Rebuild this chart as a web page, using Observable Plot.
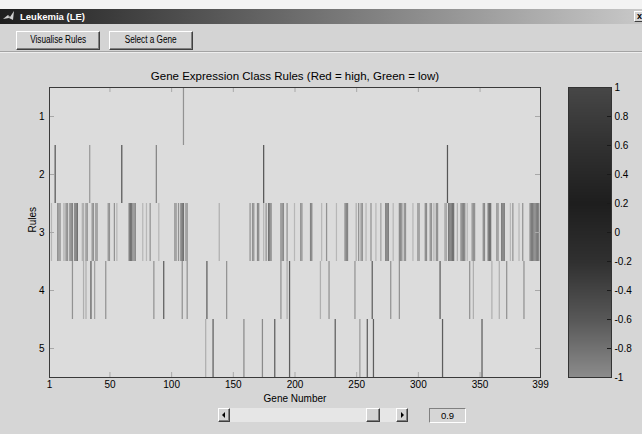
<!DOCTYPE html>
<html>
<head>
<meta charset="utf-8">
<script src="https://cdn.jsdelivr.net/npm/d3@7"></script>
<script src="https://cdn.jsdelivr.net/npm/@observablehq/plot@0.6"></script>
<style>
html, body { margin: 0; padding: 0; }
body { width: 642px; height: 434px; overflow: hidden; background: #d6d6d6; position: relative; font-family: "Liberation Sans", Arial, sans-serif; }
.abs { position: absolute; box-sizing: border-box; }
#topstrip { left: 0; top: 0; width: 642px; height: 9px; background: #f3f3f3; }
#titlebar { left: 0; top: 9px; width: 642px; height: 15px; background: linear-gradient(to right, #1e1e1e, #c8c8c8); }
#titletext { left: 20px; top: 9px; height: 15px; line-height: 15px; color: #fff; font-weight: bold; font-size: 9.5px; }
#icon { left: 3px; top: 11px; }
#closebtn { left: 634px; top: 11px; width: 14px; height: 11px; background: #d4d4d4; border-top: 1px solid #fff; border-left: 1px solid #fff; border-bottom: 1px solid #404040; border-right: 1px solid #404040; font-size: 9px; line-height: 9px; font-weight: bold; padding-left: 2px; color: #000; }
#toolbar { left: 0; top: 24px; width: 642px; height: 28px; background: #d4d4d4; border-bottom: 1px solid #a4a4a4; }
#sep2 { left: 0; top: 52px; width: 642px; height: 1px; background: #eeeeee; }
.btn { background: #d4d4d4; border-top: 1px solid #fff; border-left: 1px solid #fff; border-bottom: 1px solid #404040; border-right: 1px solid #404040; box-shadow: inset -1px -1px 0 #808080; text-align: center; color: #000; font-size: 10px; line-height: 16px; white-space: nowrap; }
.btn span { display: inline-block; transform: scaleX(0.82); }
#track { left: 230px; top: 408px; width: 167px; height: 14px; background: #e6e6e6; }
.sbtn { top: 408px; height: 14px; background: #d4d4d4; border-top: 1px solid #fff; border-left: 1px solid #fff; border-bottom: 1px solid #404040; border-right: 1px solid #404040; box-shadow: inset -1px -1px 0 #808080; }
.arrow { position: absolute; top: 3px; width: 0; height: 0; border-top: 3px solid transparent; border-bottom: 3px solid transparent; }
#valbox { left: 429px; top: 408px; width: 37px; height: 15px; background: #d6d6d6; border-top: 1px solid #808080; border-left: 1px solid #808080; border-bottom: 1px solid #fff; border-right: 1px solid #fff; font-size: 9.5px; line-height: 13px; text-align: center; color: #000; }
#mainplot { left: 0; top: 60px; }
#cbar { left: 560px; top: 60px; }
</style>
</head>
<body>
<div class="abs" id="topstrip"></div>
<div class="abs" id="titlebar"></div>
<svg class="abs" id="icon" width="12" height="11" viewBox="0 0 12 11"><path d="M0 8 L5 4 L7 6 L11 0 L10 9 L6 7 Z" fill="#d0d0d0"/><path d="M5 4 L7 6 L6 7 Z" fill="#888"/></svg>
<div class="abs" id="titletext">Leukemia (LE)</div>
<div class="abs" id="closebtn">x</div>
<div class="abs" id="toolbar"></div>
<div class="abs" id="sep2"></div>
<div class="abs btn" style="left:16px;top:31px;width:84px;height:19px;"><span>Visualise Rules</span></div>
<div class="abs btn" style="left:109px;top:31px;width:84px;height:19px;"><span>Select a Gene</span></div>
<div class="abs" id="track"></div>
<div class="abs sbtn" style="left:218px;width:12px;"><div class="arrow" style="left:3px;border-right:3px solid #000;"></div></div>
<div class="abs sbtn" style="left:366px;width:14px;"></div>
<div class="abs sbtn" style="left:396px;width:12px;"><div class="arrow" style="left:4px;border-left:3px solid #000;"></div></div>
<div class="abs" id="valbox">0.9</div>
<div class="abs" id="mainplot"></div>
<div class="abs" id="cbar"></div>
<script>
// ---- data ----
const geneTicks = [1, 50, 100, 150, 200, 250, 300, 350, 399];
const ruleTicks = [1, 2, 3, 4, 5];
const colorbarTicks = [1, 0.8, 0.6, 0.4, 0.2, 0, -0.2, -0.4, -0.6, -0.8, -1];

// [gene number, strength of the rule condition] for each rule
const rule1 = [[110, 0.5]];
const rule2 = [[6, 0.9], [34, 0.45], [60, 0.9], [88, 0.6], [175, 0.9], [324, 0.9]];
const rule3 = [
  [3,.25],[8,.5],[9,.5],[10,.5],[13,.25],[14,.25],[15,.5],[16,.5],[18,.6],[19,.6],[20,.6],[22,.72],[23,.72],[24,.72],
  [28,.3],[29,.3],[31,.5],[32,.5],[36,.5],[37,.5],[39,.5],[40,.5],[49,.5],[50,.5],[54,.5],[56,.25],[66,.72],[67,.72],[68,.72],
  [69,.55],[70,.55],[71,.55],[77,.25],[80,.25],[83,.5],[90,.25],[103,.5],[104,.5],[106,.5],[108,.72],[109,.72],[110,.72],[112,.5],[113,.5],
  [139,.3],[164,.5],[166,.5],[167,.5],[170,.55],[171,.55],[175,.25],[177,.5],[179,.7],[180,.7],[181,.6],[189,.55],[190,.55],[191,.55],
  [194,.5],[200,.25],[205,.5],[206,.5],[213,.6],[214,.6],[222,.25],[226,.5],[234,.25],[241,.6],[242,.6],[243,.6],[250,.3],[252,.5],
  [254,.5],[255,.5],[258,.25],[262,.5],[266,.25],
  [270,.4],[274,.7],[275,.7],[276,.7],[280,.25],[285,.55],[286,.55],[287,.55],[289,.5],[290,.5],[296,.25],[300,.5],[301,.5],
  [306,.55],[307,.55],[310,.5],[311,.5],[313,.25],[315,.5],[316,.5],[322,.4],[323,.4],[325,.72],[326,.72],[327,.72],[328,.72],[329,.72],
  [332,.3],[335,.6],[336,.6],[337,.6],[338,.6],[340,.25],[344,.5],[345,.5],[346,.5],[353,.55],[354,.55],[357,.72],[358,.72],[359,.72],
  [364,.5],[365,.5],[368,.72],[369,.72],[370,.72],[375,.25],[377,.5],[382,.25],[385,.5],
  [391,.65],[392,.65],[393,.65],[394,.65],[395,.65],[396,.65],[397,.65],[398,.65]
];
const rule4 = [
  [20,.5],[29,.3],[31,.3],[35,.85],[38,.4],[47,.5],[86,.5],[94,.85],[109,.5],[113,.5],[129,.85],[145,.5],[189,.5],[194,.3],
  [196,.85],[221,.3],[228,.5],[249,.5],[263,.85],[278,.5],[285,.5],[318,.85],[342,.5],[345,.3],[360,.3],[366,.3],[372,.5],[386,.5]
];
const rule5 = [
  [128,.3],[134,.85],[159,.55],[174,.55],[184,.85],[196,.85],[233,.85],[253,.45],[259,.85],[264,.85],[320,.85],[352,.85]
];

const rules = [rule1, rule2, rule3, rule4, rule5];
const cells = rules.flatMap((r, i) => r.map(([gene, strength]) => ({rule: ruleTicks[i], gene, strength})));

const font = '"Liberation Sans", Arial, sans-serif';

const main = Plot.plot({
  width: 560,
  height: 345,
  marginLeft: 49,
  marginRight: 20,
  marginTop: 27,
  marginBottom: 28,
  style: {background: "transparent", fontFamily: font, fontSize: "10px", color: "#000", overflow: "visible"},
  x: {domain: [1, 399]},
  y: {domain: [0.5, 5.5], reverse: true},
  color: {type: "linear", domain: [0, 1], range: ["#dcdcdc", "#474747"]},
  marks: [
    Plot.frame({fill: "#dcdcdc"}),
    Plot.rect(cells, {
      x1: d => d.gene - 0.5, x2: d => d.gene + 0.5,
      y1: d => d.rule - 0.5, y2: d => d.rule + 0.5,
      fill: "strength", clip: true
    }),
    Plot.tickX(geneTicks, {x: d => d, insetTop: 285, stroke: "#a8a8a8"}),
    Plot.tickX(geneTicks, {x: d => d, insetBottom: 285, stroke: "#a8a8a8"}),
    Plot.tickY(ruleTicks, {y: d => d, insetRight: 486, stroke: "#a8a8a8"}),
    Plot.tickY(ruleTicks, {y: d => d, insetLeft: 486, stroke: "#a8a8a8"}),
    Plot.frame({stroke: "#3a3a3a"}),
    Plot.axisX(geneTicks, {tickSize: 0, tickPadding: 3, label: null, fontSize: 10, tickFormat: d => String(d)}),
    Plot.axisY(ruleTicks, {tickSize: 0, tickPadding: 5, label: null, fontSize: 10, tickFormat: d => String(d)}),
    Plot.text(["Gene Expression Class Rules (Red = high, Green = low)"], {text: d => d, frameAnchor: "top", dy: -11, lineAnchor: "middle", fontSize: 11.5}),
    Plot.text(["Gene Number"], {text: d => d, frameAnchor: "bottom", dy: 21, lineAnchor: "middle", fontSize: 10}),
    Plot.text(["Rules"], {text: d => d, frameAnchor: "left", dx: -17, rotate: -90, lineAnchor: "middle", fontSize: 10})
  ]
});
document.getElementById("mainplot").appendChild(main);

const cbar = Plot.plot({
  width: 82,
  height: 345,
  marginLeft: 8,
  marginRight: 31,
  marginTop: 27,
  marginBottom: 28,
  style: {background: "transparent", fontFamily: font, fontSize: "10px", color: "#000", overflow: "visible"},
  x: {domain: [0, 1], axis: null},
  y: {domain: [-1, 1]},
  color: {type: "linear", domain: [-1, -0.6, -0.2, 0.2, 0.6, 1], range: ["#8c8c8c", "#585858", "#303030", "#1e1e1e", "#313131", "#474747"]},
  marks: [
    Plot.raster({x1: 0, x2: 1, y1: -1, y2: 1, fill: (x, y) => y}),
    Plot.tickY(colorbarTicks, {y: d => d, insetLeft: 39, stroke: "#1a1a1a"}),
    Plot.frame({stroke: "#333"}),
    Plot.axisY(colorbarTicks, {anchor: "right", tickSize: 0, tickPadding: 3, tickFormat: d => String(d), label: null, fontSize: 10})
  ]
});
document.getElementById("cbar").appendChild(cbar);
</script>
</body>
</html>
